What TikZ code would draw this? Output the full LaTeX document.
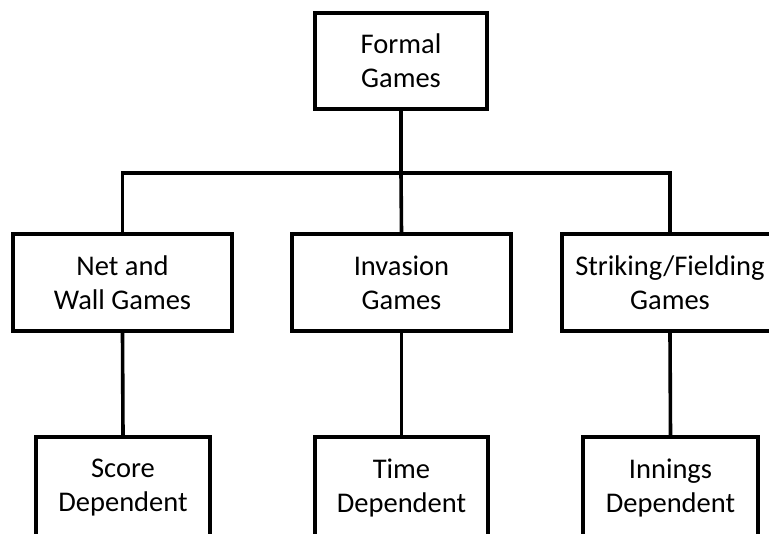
\documentclass[tikz,border=0pt]{standalone}
\usepackage{fontspec}
\setmainfont{Carlito}
\begin{document}
\begin{tikzpicture}[x=1pt,y=-1pt,
  box/.style={draw=black,line width=3.6pt,fill=white,align=center,inner sep=0pt,
    font=\fontsize{28.5}{34}\selectfont},
  link/.style={draw=black,line width=3.6pt}]
  \useasboundingbox (0,0) rectangle (769,534);
  \clip (0,0) rectangle (769,534);
  % junction where the trunk meets the horizontal bar
  \coordinate (j) at (401,173);
  % top level
  \node[box,minimum width=172pt,minimum height=96pt] (root) at (401,61) {Formal\\Games};
  % middle level
  \node[box,minimum width=219pt,minimum height=97pt] (net) at (122.5,282.5) {Net and\\Wall Games};
  \node[box,minimum width=219pt,minimum height=97pt] (inv) at (401.5,282.5) {Invasion\\Games};
  \node[box,minimum width=216pt,minimum height=97pt] (str) at (670,282.5) {Striking/Fielding\\Games};
  % bottom level
  \node[box,minimum width=174pt,minimum height=102pt] (score) at (123,488) {Score\\Dependent};
  \node[box,minimum width=173pt,minimum height=102pt] (time) at (401.5,488) {Time\\Dependent};
  \node[box,minimum width=175pt,minimum height=102pt] (inn) at (670.5,488) {Innings\\Dependent};
  % tree lines
  \draw[link] (root.south) -- (j);
  \draw[link] (net.north) |- (j) -| (str.north);
  \draw[link] (j) -- (inv.north);
  \draw[link] (net.south) -- (score.north);
  \draw[link] (inv.south) -- (time.north);
  \draw[link] (str.south) -- (inn.north);
\end{tikzpicture}
\end{document}
